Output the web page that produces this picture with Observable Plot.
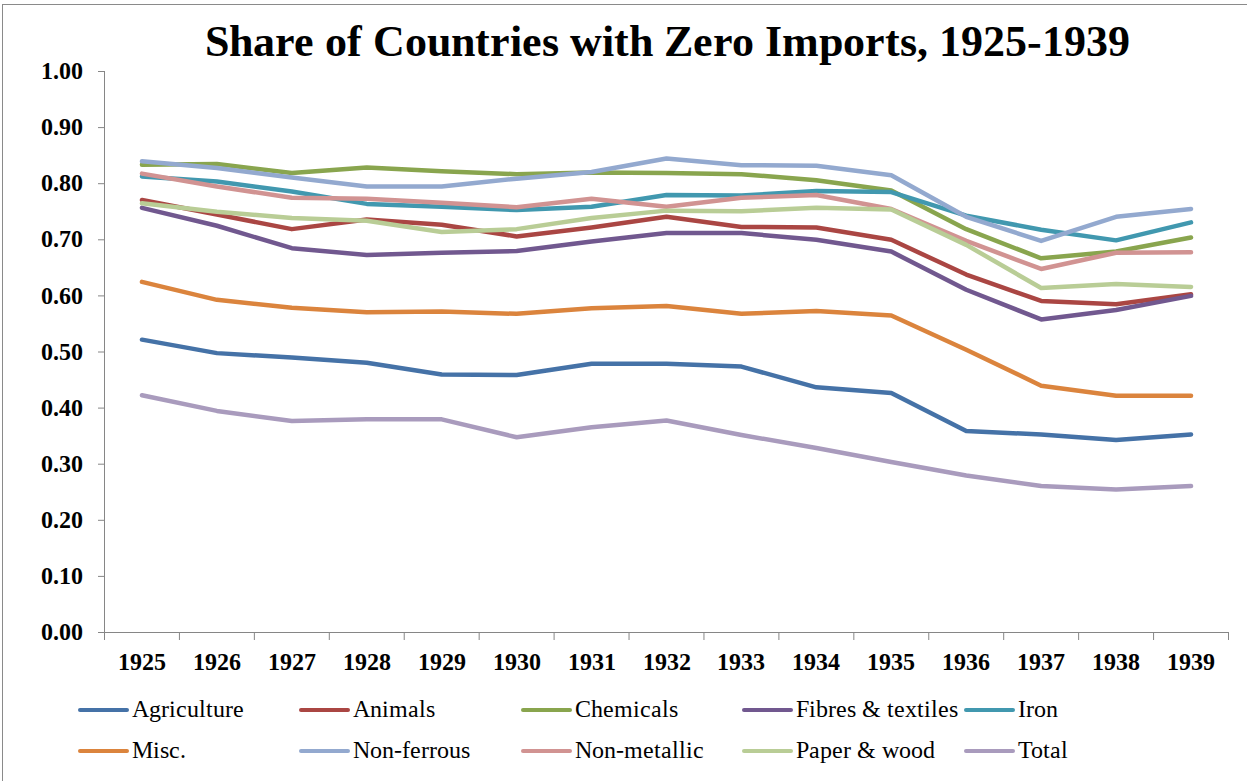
<!DOCTYPE html>
<html>
<head>
<meta charset="utf-8">
<script src="https://cdn.jsdelivr.net/npm/d3@7"></script>
<script src="https://cdn.jsdelivr.net/npm/@observablehq/plot@0.6"></script>
<style>
  @font-face { font-family: "ChartSerif"; src: local("Liberation Serif"), local("LiberationSerif"); font-weight: normal; }
  @font-face { font-family: "ChartSerif"; src: local("Liberation Serif Bold"), local("LiberationSerif-Bold"); font-weight: bold; }
  body { margin: 0; background: #fff; }
  #wrap { position: relative; width: 1247px; height: 781px; overflow: hidden; background: #fff; color: #000;
          font-family: ChartSerif, 'Liberation Serif', serif; }
  #frame { position: absolute; left: 2px; top: 4px; width: 1300px; height: 900px;
           border: 1px solid #8a8a8a; pointer-events: none; }
  #title { position: relative; z-index: 2; width: 1247px; height: 50px; box-sizing: border-box;
           padding-top: 20px; padding-left: 88px; line-height: 44px; font-size: 44px;
           font-weight: bold; text-align: center; white-space: nowrap; }
  #chart { position: relative; z-index: 1; height: 630px; }
  #legend { position: relative; z-index: 2; padding-top: 9px; padding-left: 78px;
            display: grid; grid-template-columns: repeat(5, 221.4px);
            font-size: 24px; line-height: 41px; }
  .item { position: relative; height: 41px; white-space: nowrap; }
  .sw { position: absolute; left: 0; top: 19px; width: 51px; height: 4px; border-radius: 2px; }
  .lab { padding-left: 54px; }
</style>
</head>
<body>
<div id="wrap">
  <div id="frame"></div>
  <div id="title">Share of Countries with Zero Imports, 1925-1939</div>
  <div id="chart"></div>
  <div id="legend"></div>
</div>
<script>
const years = [1925, 1926, 1927, 1928, 1929, 1930, 1931, 1932, 1933, 1934, 1935, 1936, 1937, 1938, 1939];

const seriesNames = ["Agriculture", "Animals", "Chemicals", "Fibres & textiles", "Iron",
                     "Misc.", "Non-ferrous", "Non-metallic", "Paper & wood", "Total"];
const seriesColors = ["#4572A7", "#AA4643", "#89A54E", "#71588F", "#4198AF",
                      "#DB843D", "#93A9CF", "#D19392", "#B9CD96", "#A99BBD"];

const agriculture = [0.522, 0.498, 0.490, 0.481, 0.460, 0.459, 0.479, 0.479, 0.474, 0.437, 0.427, 0.359, 0.353, 0.343, 0.353];
const animals     = [0.771, 0.745, 0.719, 0.736, 0.727, 0.706, 0.722, 0.741, 0.723, 0.722, 0.700, 0.638, 0.591, 0.585, 0.603];
const chemicals   = [0.834, 0.835, 0.819, 0.829, 0.822, 0.817, 0.820, 0.819, 0.817, 0.806, 0.788, 0.719, 0.667, 0.679, 0.704];
const fibres      = [0.757, 0.725, 0.685, 0.673, 0.677, 0.680, 0.697, 0.712, 0.712, 0.700, 0.679, 0.611, 0.558, 0.575, 0.600];
const iron        = [0.813, 0.804, 0.786, 0.764, 0.759, 0.753, 0.759, 0.780, 0.779, 0.787, 0.785, 0.743, 0.718, 0.699, 0.731];
const misc        = [0.625, 0.593, 0.579, 0.571, 0.572, 0.568, 0.578, 0.582, 0.568, 0.573, 0.565, 0.504, 0.440, 0.422, 0.422];
const nonFerrous  = [0.840, 0.828, 0.811, 0.795, 0.795, 0.809, 0.821, 0.845, 0.833, 0.832, 0.815, 0.741, 0.698, 0.741, 0.755];
const nonMetallic = [0.818, 0.795, 0.775, 0.773, 0.766, 0.758, 0.773, 0.759, 0.775, 0.780, 0.755, 0.698, 0.648, 0.677, 0.678];
const paperWood   = [0.765, 0.750, 0.739, 0.734, 0.714, 0.719, 0.739, 0.752, 0.751, 0.757, 0.754, 0.691, 0.614, 0.621, 0.616];
const total       = [0.423, 0.395, 0.377, 0.380, 0.380, 0.348, 0.366, 0.378, 0.352, 0.329, 0.304, 0.280, 0.261, 0.255, 0.261];

const yTicks = [0, 0.1, 0.2, 0.3, 0.4, 0.5, 0.6, 0.7, 0.8, 0.9, 1.0];

const seriesValues = [agriculture, animals, chemicals, fibres, iron, misc, nonFerrous, nonMetallic, paperWood, total];
const rows = [];
seriesNames.forEach((name, i) => {
  years.forEach((yr, j) => rows.push({series: name, year: yr, value: seriesValues[i][j]}));
});

const bounds = years.map(y => y - 0.5).concat([years[years.length - 1] + 0.5]);
const axisColor = "#868686";
const serif = "ChartSerif, 'Liberation Serif', serif";

const plot = Plot.plot({
  width: 1247,
  height: 630,
  marginTop: 21,
  marginBottom: 48,
  marginLeft: 104,
  marginRight: 19,
  style: {background: "transparent", overflow: "visible", fontFamily: serif, fontSize: "24px", color: "#000"},
  x: {domain: [bounds[0], bounds[bounds.length - 1]]},
  y: {domain: [0, 1]},
  color: {domain: seriesNames, range: seriesColors},
  marks: [
    Plot.axisY({ticks: yTicks, tickFormat: d3.format(".2f"), tickSize: 6, tickPadding: 16,
                stroke: axisColor, fill: "#000", fontSize: 24, fontWeight: "bold", fontFamily: serif, label: null}),
    Plot.axisX({ticks: bounds, tickSize: 8, tickFormat: () => "", stroke: axisColor, label: null}),
    Plot.axisX({ticks: years, tickSize: 0, tickPadding: 20, tickFormat: d => String(d),
                fill: "#000", fontSize: 24, fontWeight: "bold", fontFamily: serif, label: null}),
    Plot.ruleX([bounds[0]], {y1: 0, y2: 1, stroke: axisColor}),
    Plot.ruleY([0], {stroke: axisColor}),
    Plot.line(rows, {x: "year", y: "value", z: "series", stroke: "series",
                     strokeWidth: 4.5, strokeLinejoin: "round", strokeLinecap: "round"})
  ]
});
document.getElementById("chart").appendChild(plot);

const legend = document.getElementById("legend");
seriesNames.forEach((name, i) => {
  const item = document.createElement("div");
  item.className = "item";
  const sw = document.createElement("span");
  sw.className = "sw";
  sw.style.background = seriesColors[i];
  const lab = document.createElement("span");
  lab.className = "lab";
  lab.textContent = name;
  item.appendChild(sw);
  item.appendChild(lab);
  legend.appendChild(item);
});
</script>
</body>
</html>
